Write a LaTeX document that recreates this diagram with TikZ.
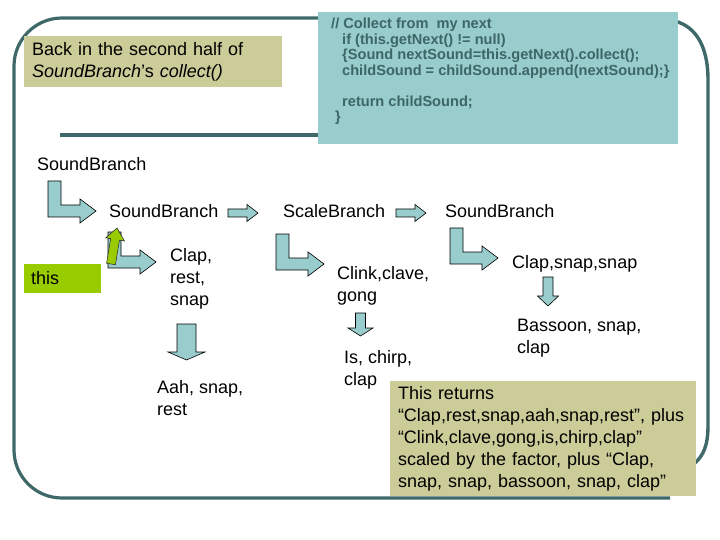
\documentclass[tikz,border=0pt]{standalone}
\usepackage{fontspec}
\setmainfont{Liberation Sans}
\usepackage{xcolor}
\usepackage{tikz}

\definecolor{framecol}{HTML}{3F6868}
\definecolor{codebg}{HTML}{99CCCC}
\definecolor{codefg}{HTML}{3D6666}
\definecolor{olivebg}{HTML}{CCCC99}
\definecolor{thisgreen}{HTML}{99CC00}
\definecolor{arrowfill}{HTML}{99CCCC}

\begin{document}
\begin{tikzpicture}[x=1pt,y=-1pt,
    lbl/.style={anchor=base west, inner sep=0pt, align=left,
      font=\fontsize{18}{22}\selectfont},
    blockarrow/.style={fill=arrowfill, draw=black, line width=0.6pt},
    notebox/.style={fill=olivebg, inner xsep=8pt, inner ysep=0pt, align=left,
      font=\fontsize{18}{22}\selectfont}]
  \useasboundingbox (0,0) rectangle (720,540);
  % frame
  \draw[framecol, line width=3.2pt] (330,18) -- (62,18)
    .. controls (35.5,18) and (14,39.5) .. (14,66) -- (14,450)
    .. controls (14,476.5) and (35.5,498) .. (62,498) -- (670,498);
  \draw[framecol, line width=3.4pt] (670,20) .. controls (695,24) and (708,45) .. (708,80)
    -- (708,425) .. controls (708,445) and (704,455) .. (694,464);
  \draw[framecol, line width=4.5pt] (60,135) -- (330,135);
  % code box (base = last line)
  \node (codebox) [fill=codebg, minimum width=360pt, minimum height=132pt, inner sep=0pt] at (498,78) {};
  \node (code) [anchor=base west, inner sep=0pt, align=left, text=codefg,
      font=\bfseries\fontsize{14.6}{15.7}\selectfont] at (331,122)
    {// Collect from\ \ my next\\
     \hspace*{11pt}if (this.getNext() != null)\\
     \hspace*{11pt}\{Sound nextSound=this.getNext().collect();\\
     \hspace*{11pt}childSound = childSound.append(nextSound);\}\\[15pt]
     \hspace*{11pt}return childSound;\\
     \hspace*{4pt}\}};
  % title
  \node (title) [notebox, minimum width=258pt, minimum height=51pt, text width=242pt]
    at (153,61.5) {Back in the second half of\\\textit{SoundBranch}'s \textit{collect()}};
  % block arrows
  \foreach \x/\y in {48/181,108/232,276/234,450/228} {
    \draw[blockarrow] (\x,\y) -- ++(13,0) -- ++(0,24) -- ++(19,0) -- ++(0,-6)
      -- ++(16,12) -- ++(-16,12) -- ++(0,-6) -- ++(-32,0) -- cycle;
  }
  \foreach \x/\y in {228/213,396/213} {
    \draw[blockarrow] (\x,\y-4) -- (\x+19,\y-4) -- (\x+19,\y-8.5) -- (\x+30,\y)
      -- (\x+19,\y+8.5) -- (\x+19,\y+4) -- (\x,\y+4) -- cycle;
  }
  \foreach \cx/\ya/\yb/\yc/\w/\h in {186.5/324/352/360/9.5/18.5,360.5/313/328/336/5/12.5,548/277/296/306/5/10.5} {
    \draw[blockarrow] (\cx-\w,\ya) -- (\cx+\w,\ya) -- (\cx+\w,\yb) -- (\cx+\h,\yb)
      -- (\cx,\yc) -- (\cx-\h,\yb) -- (\cx-\w,\yb) -- cycle;
  }
  % this
  \node (this) [fill=thisgreen, minimum width=77pt, minimum height=29pt, inner xsep=7pt,
    text width=63pt, align=left, font=\fontsize{18}{22}\selectfont] at (62.5,278.5) {this};
  \draw[fill=thisgreen, draw=black!80, line width=0.6pt] (106.6,263.3) -- (110.7,238.6)
    -- (105.7,237.8) -- (117,228) -- (124.5,241) -- (119.5,240.1) -- (115.4,264.7) -- cycle;
  % labels (multi-line ones sit on their last line)
  \node (sbtop)   [lbl] at (37,171)  {SoundBranch};
  \node (sbmid)   [lbl] at (109,218) {SoundBranch};
  \node (scale)   [lbl] at (283,218) {ScaleBranch};
  \node (sbright) [lbl] at (445,218) {SoundBranch};
  \node (claprest) [lbl] at (170,305) {Clap,\\rest,\\snap};
  \node (aah)     [lbl] at (157,415) {Aah, snap,\\rest};
  \node (clink)   [lbl] at (337,301) {Clink,clave,\\gong};
  \node (chirp)   [lbl] at (344,385) {Is, chirp,\\clap};
  \node (clapsnap) [lbl] at (512,268) {Clap,snap,snap};
  \node (bassoon) [lbl] at (517,353) {Bassoon, snap,\\clap};
  % result
  \node (result) [notebox, minimum width=306pt, minimum height=115pt, text width=290pt]
    at (543,438.5) {This returns\\
      “Clap,rest,snap,aah,snap,rest”, plus\\
      “Clink,clave,gong,is,chirp,clap”\\
      scaled by the factor, plus “Clap,\\
      snap, snap, bassoon, snap, clap”};
\end{tikzpicture}
\end{document}
